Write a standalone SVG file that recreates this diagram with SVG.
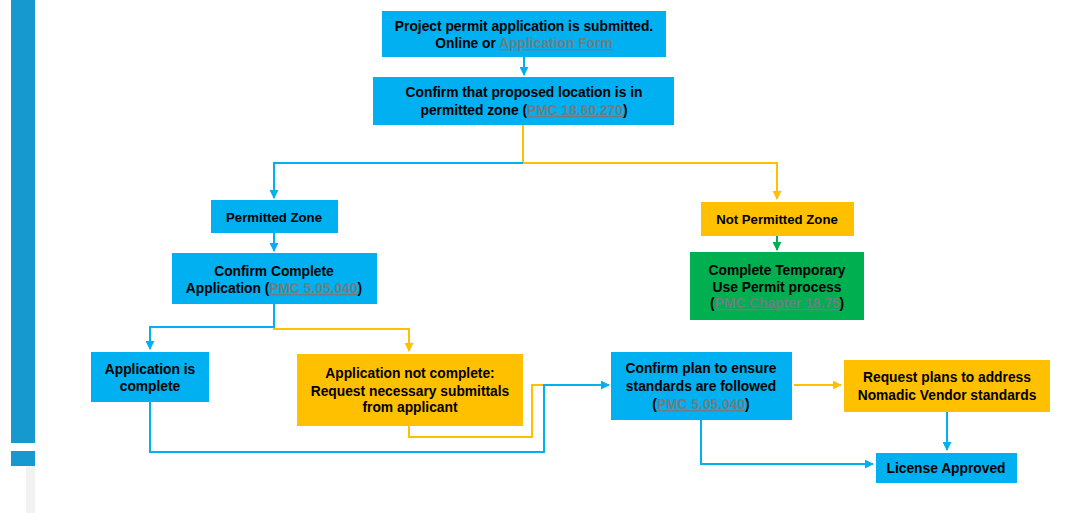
<svg xmlns="http://www.w3.org/2000/svg" width="1089" height="513" viewBox="0 0 1089 513">
<defs>
<style>
.b{fill:#00B0F0}
.y{fill:#FFC000}
.g{fill:#00B050}
text{font-family:"Liberation Sans",Arial,sans-serif;font-weight:bold;font-size:13.8px;fill:#000;text-anchor:middle}
.lk{fill:#6f7d82;text-decoration:underline}
.cb{fill:none;stroke:#00B0F0;stroke-width:2}
.cy{fill:none;stroke:#FFC000;stroke-width:2}
.cg{fill:none;stroke:#00B050;stroke-width:2}
</style>
<marker id="ab" viewBox="0 0 10 10" refX="9" refY="5" markerWidth="4.5" markerHeight="4.5" orient="auto" markerUnits="strokeWidth"><path d="M0,0L10,5L0,10z" fill="#00B0F0"/></marker>
<marker id="ay" viewBox="0 0 10 10" refX="9" refY="5" markerWidth="4.5" markerHeight="4.5" orient="auto" markerUnits="strokeWidth"><path d="M0,0L10,5L0,10z" fill="#FFC000"/></marker>
<marker id="ag" viewBox="0 0 10 10" refX="9" refY="5" markerWidth="4.5" markerHeight="4.5" orient="auto" markerUnits="strokeWidth"><path d="M0,0L10,5L0,10z" fill="#00B050"/></marker>
</defs>
<rect width="1089" height="513" fill="#fff"/>
<g id="sidebar">
<rect x="11" y="0" width="24" height="443" fill="#1599CF"/>
<rect x="11" y="451" width="24" height="15" fill="#1599CF"/>
<rect x="26" y="466" width="9" height="47" fill="#f2f2f2"/>
</g>
<g id="connectors">
<path class="cb" d="M524,57V75" marker-end="url(#ab)"/>
<path class="cy" d="M523,125V163H777V199" marker-end="url(#ay)"/>
<path class="cb" d="M523,163H274V198" marker-end="url(#ab)"/>
<path class="cb" d="M274,233V251" marker-end="url(#ab)"/>
<path class="cg" d="M777,236V250" marker-end="url(#ag)"/>
<path class="cy" d="M274,304V329H409V351" marker-end="url(#ay)"/>
<path class="cb" d="M274,304V327H150V349" marker-end="url(#ab)"/>
<path class="cy" d="M409,426V437H532V385H544"/>
<path class="cb" d="M150,402V452H544V385H609" marker-end="url(#ab)"/>
<path class="cy" d="M794,385H841" marker-end="url(#ay)"/>
<path class="cb" d="M947,412V450" marker-end="url(#ab)"/>
<path class="cb" d="M701,420V464H873" marker-end="url(#ab)"/>
</g>
<g id="n1"><rect class="b" x="382" y="11" width="284" height="46"/>
<text x="524" y="31">Project permit application is submitted.</text>
<text x="524" y="48">Online or <tspan class="lk">Application Form</tspan></text></g>
<g id="n2"><rect class="b" x="373" y="77" width="301" height="48"/>
<text x="524" y="97">Confirm that proposed location is in</text>
<text x="524" y="115">permitted zone (<tspan class="lk">PMC 18.60.270</tspan>)</text></g>
<g id="n3"><rect class="b" x="211" y="200" width="127" height="33"/>
<text x="274" y="221.5" style="font-size:13.2px">Permitted Zone</text></g>
<g id="n4"><rect class="b" x="172" y="253" width="205" height="51"/>
<text x="274" y="276">Confirm Complete</text>
<text x="274" y="293">Application (<tspan class="lk">PMC 5.05.040</tspan>)</text></g>
<g id="n5"><rect class="y" x="701" y="202" width="153" height="34"/>
<text x="777" y="224" style="font-size:13.2px">Not Permitted Zone</text></g>
<g id="n6"><rect class="g" x="690" y="252" width="174" height="68"/>
<text x="777" y="275">Complete Temporary</text>
<text x="777" y="292">Use Permit process</text>
<text x="777" y="308">(<tspan class="lk">PMC Chapter 18.75</tspan>)</text></g>
<g id="n7"><rect class="b" x="91" y="352" width="118" height="50"/>
<text x="150" y="374">Application is</text>
<text x="150" y="391">complete</text></g>
<g id="n8"><rect class="y" x="297" y="354" width="226" height="72"/>
<text x="410" y="378">Application not complete:</text>
<text x="410" y="396">Request necessary submittals</text>
<text x="410" y="412">from applicant</text></g>
<g id="n9"><rect class="b" x="611" y="352" width="181" height="68"/>
<text x="701" y="373">Confirm plan to ensure</text>
<text x="701" y="391">standards are followed</text>
<text x="701" y="409">(<tspan class="lk">PMC 5.05.040</tspan>)</text></g>
<g id="n10"><rect class="y" x="844" y="360" width="206" height="52"/>
<text x="947" y="382">Request plans to address</text>
<text x="947" y="400">Nomadic Vendor standards</text></g>
<g id="n11"><rect class="b" x="876" y="453" width="141" height="30"/>
<text x="946" y="473">License Approved</text></g>
</svg>
